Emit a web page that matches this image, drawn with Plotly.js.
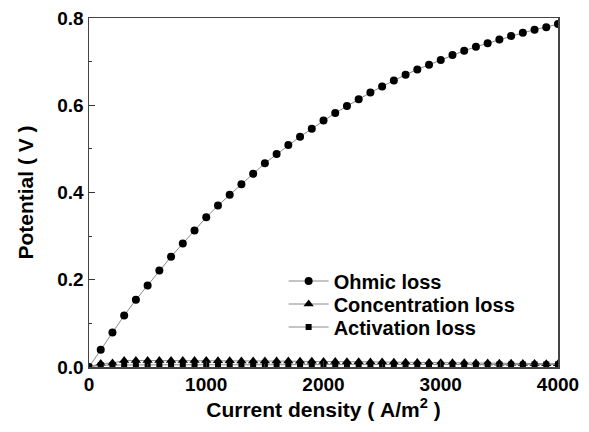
<!DOCTYPE html>
<html>
<head>
<meta charset="utf-8">
<script src="https://cdn.plot.ly/plotly-3.0.1.min.js"></script>
<style>html,body{margin:0;padding:0;background:#fff}#chart{width:589px;height:432px}</style>
</head>
<body>
<div id="chart"></div>
<script>
const currentDensity = [0,100,200,300,400,500,600,700,800,900,1000,1100,1200,1300,1400,1500,1600,1700,1800,1900,2000,2100,2200,2300,2400,2500,2600,2700,2800,2900,3000,3100,3200,3300,3400,3500,3600,3700,3800,3900,4000];
const ohmicLoss = [0,0.0395,0.079,0.118,0.154,0.187,0.221,0.253,0.283,0.313,0.343,0.370,0.395,0.419,0.443,0.467,0.488,0.509,0.528,0.546,0.565,0.582,0.598,0.614,0.629,0.643,0.657,0.670,0.682,0.693,0.704,0.715,0.725,0.734,0.742,0.751,0.759,0.766,0.773,0.779,0.786];
const concentrationLoss = [0,0.008,0.009,0.015,0.015,0.015,0.015,0.015,0.015,0.015,0.015,0.0145,0.0145,0.014,0.014,0.014,0.0135,0.0135,0.013,0.013,0.0125,0.0125,0.012,0.012,0.0115,0.0115,0.011,0.011,0.0105,0.0105,0.010,0.0098,0.0095,0.0092,0.009,0.0087,0.0085,0.0082,0.008,0.0077,0.0075];
const activationLoss = [0,0.004,0.0045,0.005,0.005,0.005,0.005,0.005,0.005,0.005,0.005,0.005,0.005,0.005,0.005,0.005,0.005,0.005,0.0052,0.0052,0.0052,0.0052,0.0053,0.0053,0.0053,0.0054,0.0054,0.0054,0.0055,0.0055,0.0055,0.0056,0.0056,0.0056,0.0057,0.0057,0.0057,0.0058,0.0058,0.0058,0.006];
const seriesNames = ["Ohmic loss","Concentration loss","Activation loss"];
const xTicks = [0,1000,2000,3000,4000];
const yTicks = [0,0.2,0.4,0.6,0.8];
const yTickText = ['0.0','0.2','0.4','0.6','0.8'];

const lineStyle = {color:'#8a8a8a', width:1};
const traces = [
  {x:currentDensity, y:ohmicLoss, name:seriesNames[0], legend:'legend', mode:'lines+markers', line:lineStyle, marker:{symbol:'circle', size:8, color:'#000'}},
  {x:currentDensity, y:concentrationLoss, name:seriesNames[1], legend:'legend2', mode:'lines+markers', line:lineStyle, marker:{symbol:'triangle-up', size:9, color:'#000'}},
  {x:currentDensity, y:activationLoss, name:seriesNames[2], legend:'legend3', mode:'lines+markers', line:lineStyle, marker:{symbol:'square', size:6, color:'#000'}}
];
const fontFam = '"Liberation Sans", Arial, sans-serif';
const legFont = {size:20, family:fontFam, weight:'bold', color:'#000'};
function leg(yc){ return {x:0.415, y:yc, xanchor:'left', yanchor:'middle', bgcolor:'rgba(0,0,0,0)', font:legFont, itemwidth:40}; }
const layout = {
  width:589, height:432,
  margin:{l:89, r:31, t:18, b:65},
  paper_bgcolor:'#fff', plot_bgcolor:'#fff',
  font:{family:fontFam, color:'#000'},
  showlegend:true,
  legend:leg((367-281)/349),
  legend2:leg((367-304)/349),
  legend3:leg((367-327)/349),
  xaxis:{range:[0,4000], tickvals:xTicks, ticks:'inside', ticklen:6, tickwidth:1.2, tickcolor:'#333',
    minor:{tickvals:[500,1500,2500,3500], ticks:'inside', ticklen:3, tickcolor:'#333'},
    showline:true, linecolor:'#444', linewidth:1.5, mirror:true, showgrid:false, zeroline:false,
    tickfont:{size:19, family:fontFam, weight:'bold'},
    title:{text:'Current density\u00a0(\u00a0A/m<sup>2</sup>\u00a0)', font:{size:21, family:fontFam, weight:'bold'}, standoff:2}},
  yaxis:{range:[0,0.8], tickvals:yTicks, ticktext:yTickText, ticks:'inside', ticklen:6, tickwidth:1.2, tickcolor:'#333',
    minor:{tickvals:[0.1,0.3,0.5,0.7], ticks:'inside', ticklen:3, tickcolor:'#333'},
    showline:true, linecolor:'#444', linewidth:1.5, mirror:true, showgrid:false, zeroline:false,
    tickfont:{size:19, family:fontFam, weight:'bold'},
    title:{text:'Potential ( V )', font:{size:21, family:fontFam, weight:'bold'}, standoff:18}}
};
Plotly.newPlot('chart', traces, layout, {displayModeBar:false, staticPlot:true});
</script>
</body>
</html>
